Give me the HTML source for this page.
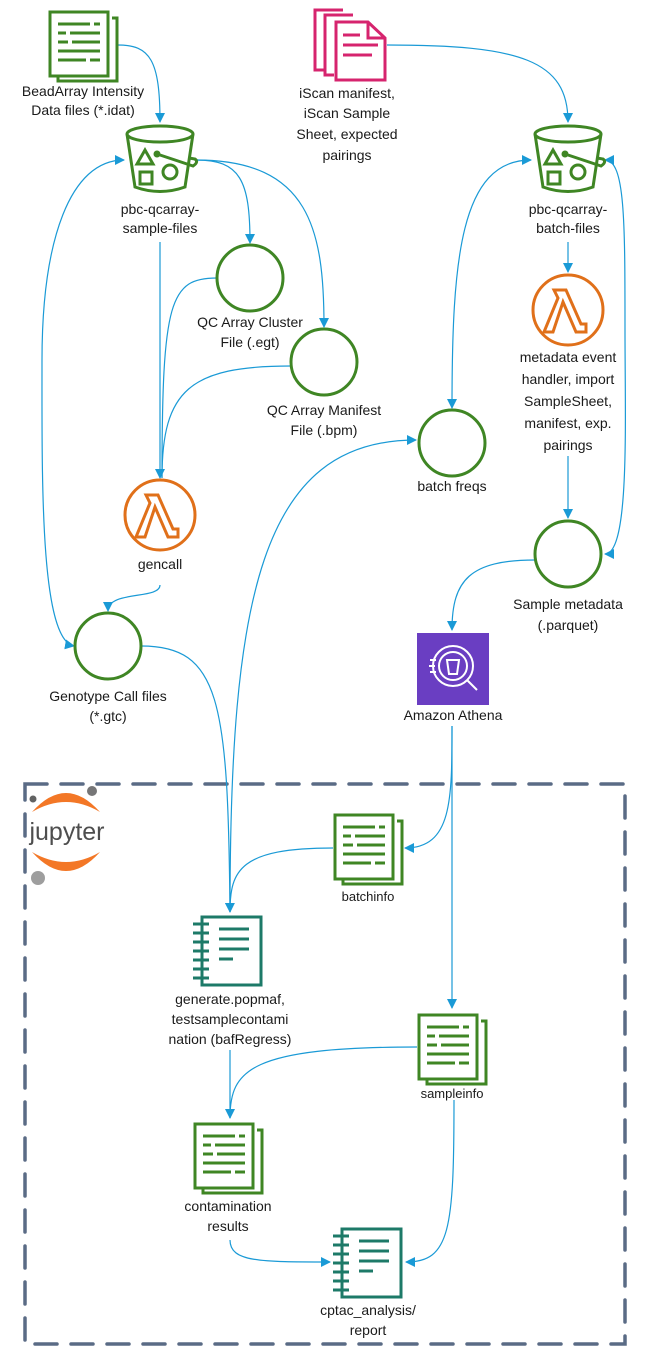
<!DOCTYPE html>
<html><head><meta charset="utf-8"><style>
html,body{margin:0;padding:0;background:#fff;}
svg{display:block;}
text{font-family:"Liberation Sans",sans-serif;font-size:14px;fill:#1a1a1a;text-anchor:middle;}
</style></head><body>
<svg width="657" height="1360" viewBox="0 0 657 1360" xmlns="http://www.w3.org/2000/svg">
<defs>
<marker id="a" markerWidth="10" markerHeight="10" refX="9" refY="5" orient="auto" markerUnits="userSpaceOnUse">
<path d="M0,0 L10,5 L0,10 z" fill="#1a9ad6"/></marker>
<marker id="s" markerWidth="10" markerHeight="10" refX="1" refY="5" orient="auto" markerUnits="userSpaceOnUse">
<path d="M10,0 L0,5 L10,10 z" fill="#1a9ad6"/></marker>
<g id="doc" fill="none" stroke="#3f8624" stroke-width="3">
<rect x="2" y="2" width="58" height="64"/>
<path d="M64,8 H69 V71 H10 V67"/>
<path d="M10,14 H42 M46,14 H52 M10,23 H18 M22,23 H52 M10,32 H20 M24,32 H52 M10,41 H52 M10,50 H38 M42,50 H52"/>
</g>
<g id="nb" fill="none" stroke="#1d7a68" stroke-width="3">
<rect x="9" y="2" width="59" height="68"/>
<path d="M0,9 H16 M0,18 H16 M0,27 H16 M0,36 H16 M0,45 H16 M0,54 H16 M0,63 H16"/>
<path d="M26,14 H56 M26,24 H56 M26,34 H56 M26,44 H40"/>
</g>
<g id="bkt" fill="none" stroke="#3f8624" stroke-width="3">
<ellipse cx="35" cy="10" rx="33" ry="8"/>
<path d="M2,10 L10,63 Q35,72 60,63 L68,10"/>
<path d="M12,40 L20,26 L28,40 z"/>
<rect x="15" y="48" width="12" height="12"/>
<circle cx="45" cy="48" r="7"/>
<circle cx="32" cy="30" r="2" fill="#3f8624"/>
<path d="M32,30 L68,42 Q74,38 70,35 L64,34"/>
</g>
<g id="lam" fill="none" stroke="#e0701a" stroke-width="3">
<circle cx="0" cy="0" r="35"/>
<path d="M-14,-20 H-2 L13,14 H18 V22 H8 L-5,-8 L-15,22 H-24 L-10,-12 L-14,-20 Z"/>
</g>
</defs>

<rect x="25" y="784" width="600" height="560" fill="none" stroke="#5a6b85" stroke-width="3.5" stroke-dasharray="22,14" stroke-linecap="round"/>

<path d="M32,812 Q66,774 100,812 Q66,792 32,812 z" fill="#f37726"/>
<path d="M32,852 Q66,890 100,852 Q66,872 32,852 z" fill="#f37726"/>
<text x="67" y="840" style="font-size:25px;fill:#4e4e4e">jupyter</text>
<circle cx="92" cy="791" r="5" fill="#767677"/>
<circle cx="33" cy="799" r="3.5" fill="#616262"/>
<circle cx="38" cy="878" r="7" fill="#9e9e9e"/>

<g fill="none" stroke="#1a9ad6" stroke-width="1.2">
<path d="M118,45 C150,45 160,60 160,122" marker-end="url(#a)"/>
<path d="M387,45 C520,45 568,60 568,122" marker-end="url(#a)"/>
<path d="M196,160 C240,160 250,180 250,243" marker-end="url(#a)"/>
<path d="M196,160 C310,160 324,230 324,327" marker-end="url(#a)"/>
<path d="M160,242 V478" marker-end="url(#a)"/>
<path d="M217,278 C170,278 162,300 162,478"/>
<path d="M291,366 C190,366 162,390 162,478"/>
<path d="M160,585 C160,600 108,590 108,611" marker-end="url(#a)"/>
<path d="M74,646 C40,640 42,480 42,360 C42,240 70,160 124,160" marker-start="url(#s)" marker-end="url(#a)"/>
<path d="M141,646 C220,646 228,700 230,912" marker-end="url(#a)"/>
<path d="M230,912 C230,600 260,440 416,440" marker-end="url(#a)"/>
<path d="M452,408 C452,260 460,160 531,160" marker-start="url(#s)" marker-end="url(#a)"/>
<path d="M568,242 V272" marker-end="url(#a)"/>
<path d="M568,456 V518" marker-end="url(#a)"/>
<path d="M605,554 C630,554 625,420 625,330 C625,220 625,160 605,160" marker-start="url(#s)" marker-end="url(#a)"/>
<path d="M535,560 C470,560 452,580 452,630" marker-end="url(#a)"/>
<path d="M452,726 C452,800 452,848 405,848" marker-end="url(#a)"/>
<path d="M452,726 V1008" marker-end="url(#a)"/>
<path d="M333,848 C240,848 230,870 230,912"/>
<path d="M417,1047 C250,1047 230,1070 230,1118" marker-end="url(#a)"/>
<path d="M230,1050 V1118"/>
<path d="M230,1240 C230,1262 260,1262 330,1262" marker-end="url(#a)"/>
<path d="M454,1100 C454,1230 450,1262 406,1262" marker-end="url(#a)"/>
</g>

<use href="#doc" x="48" y="10"/>
<text x="83" y="96">BeadArray Intensity</text>
<text x="83" y="115">Data files (*.idat)</text>

<g fill="none" stroke="#d6246e" stroke-width="3">
<path d="M324,70 H315 V10 H343"/>
<path d="M334,75 H325 V15 H353"/>
<path d="M336,22 H368 L385,38 V80 H336 Z M368,22 V38 H385"/>
<path d="M343,35 H360 M343,45 H378 M343,55 H372"/>
</g>
<text x="347" y="98">iScan manifest,</text>
<text x="347" y="118">iScan Sample</text>
<text x="347" y="139">Sheet, expected</text>
<text x="347" y="160">pairings</text>

<use href="#bkt" x="125" y="124"/>
<text x="160" y="214">pbc-qcarray-</text>
<text x="160" y="233">sample-files</text>

<use href="#bkt" x="533" y="124"/>
<text x="568" y="214">pbc-qcarray-</text>
<text x="568" y="233">batch-files</text>

<g fill="#fff" stroke="#3f8624" stroke-width="3">
<circle cx="250" cy="278" r="33"/>
<circle cx="324" cy="362" r="33"/>
<circle cx="452" cy="443" r="33"/>
<circle cx="568" cy="554" r="33"/>
<circle cx="108" cy="646" r="33"/>
</g>
<text x="250" y="327">QC Array Cluster</text>
<text x="250" y="347">File (.egt)</text>
<text x="324" y="415">QC Array Manifest</text>
<text x="324" y="435">File (.bpm)</text>
<text x="452" y="491">batch freqs</text>
<text x="568" y="609">Sample metadata</text>
<text x="568" y="630">(.parquet)</text>
<text x="108" y="701">Genotype Call files</text>
<text x="108" y="721">(*.gtc)</text>

<use href="#lam" x="568" y="310"/>
<text x="568" y="362">metadata event</text>
<text x="568" y="384">handler, import</text>
<text x="568" y="406">SampleSheet,</text>
<text x="568" y="428">manifest, exp.</text>
<text x="568" y="450">pairings</text>

<use href="#lam" x="160" y="515"/>
<text x="160" y="569">gencall</text>

<rect x="417" y="633" width="72" height="72" fill="#6a3ec2"/>
<g fill="none" stroke="#fff" stroke-width="2">
<circle cx="453" cy="666" r="20"/>
<circle cx="453" cy="666" r="14"/>
<path d="M467,680 L477,690"/>
<path d="M447,660 L449,674 H457 L459,660 Z"/>
<path d="M430,660 H436 M429,666 H435 M430,672 H436"/>
</g>
<text x="453" y="720">Amazon Athena</text>

<use href="#doc" x="333" y="813"/>
<text x="368" y="901" style="font-size:13px">batchinfo</text>

<use href="#nb" x="193" y="915"/>
<text x="230" y="1004">generate.popmaf,</text>
<text x="230" y="1024">testsamplecontami</text>
<text x="230" y="1044">nation (bafRegress)</text>

<use href="#doc" x="417" y="1013"/>
<text x="452" y="1098" style="font-size:13px">sampleinfo</text>

<use href="#doc" x="193" y="1122"/>
<text x="228" y="1211">contamination</text>
<text x="228" y="1231">results</text>

<use href="#nb" x="333" y="1227"/>
<text x="368" y="1315">cptac_analysis/</text>
<text x="368" y="1335">report</text>
</svg>
</body></html>
